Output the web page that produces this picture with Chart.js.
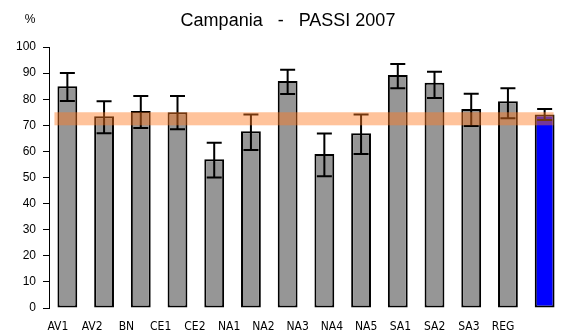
<!DOCTYPE html>
<html>
<head>
<meta charset="utf-8">
<script src="https://cdn.jsdelivr.net/npm/chart.js@4/dist/chart.umd.min.js"></script>
<style>
  html, body { margin: 0; padding: 0; background: #fff; }
  #wrap { width: 564px; height: 334px; }
</style>
</head>
<body>
<div id="wrap"><canvas id="chart" width="564" height="334"></canvas></div>
<script>
// dati
const categories = ["AV1", "AV2", "BN", "CE1", "CE2", "NA1", "NA2", "NA3", "NA4", "NA5", "SA1", "SA2", "SA3", "REG"];
const values = [85, 73.5, 75.5, 75, 57, 67.7, 87, 59, 67, 89.3, 86.3, 76.2, 79.2, 74.1];
const errLow = [79.3, 67, 69, 68.5, 50, 60.5, 82, 50.5, 59, 84.2, 80.5, 69.7, 72.7, 72];
const errHigh = [90, 79.2, 81.2, 81.2, 63.3, 74.1, 91.3, 66.9, 74.1, 93.5, 90.5, 82.1, 84.2, 76.2];
const bandRange = [70, 75];
const yTicks = [0, 10, 20, 30, 40, 50, 60, 70, 80, 90, 100];

const barColors = categories.map(c => c === "REG" ? "#0000ff" : "#969696");

// barre di errore
const errorBars = {
  id: "errorBars",
  afterDatasetsDraw(chart) {
    const ctx = chart.ctx;
    const y = chart.scales.y;
    const bars = chart.getDatasetMeta(0).data;
    ctx.save();
    ctx.strokeStyle = "#000";
    ctx.lineWidth = 2;
    bars.forEach((bar, i) => {
      const yl = y.getPixelForValue(errLow[i]);
      const yh = y.getPixelForValue(errHigh[i]);
      const cap = 7.5;
      ctx.beginPath();
      ctx.moveTo(bar.x, yl);
      ctx.lineTo(bar.x, yh);
      ctx.moveTo(bar.x - cap, yh);
      ctx.lineTo(bar.x + cap, yh);
      ctx.moveTo(bar.x - cap, yl);
      ctx.lineTo(bar.x + cap, yl);
      ctx.stroke();
    });
    ctx.restore();
  }
};

// fascia arancione (valore regionale)
const band = {
  id: "band",
  afterDatasetsDraw(chart) {
    const ctx = chart.ctx;
    const y = chart.scales.y;
    const bars = chart.getDatasetMeta(0).data;
    const first = bars[0], last = bars[bars.length - 1];
    const x0 = first.x - first.width / 2 - 3;
    const x1 = last.x + last.width / 2 - 1;
    const top = y.getPixelForValue(bandRange[1]);
    const bot = y.getPixelForValue(bandRange[0]);
    ctx.save();
    ctx.fillStyle = "rgba(255, 122, 33, 0.45)";
    ctx.fillRect(x0, top, x1 - x0, bot - top);
    ctx.restore();
  }
};

// titolo e unità
const titles = {
  id: "titles",
  afterDraw(chart) {
    const ctx = chart.ctx;
    ctx.save();
    ctx.fillStyle = "#000";
    ctx.textBaseline = "alphabetic";
    ctx.textAlign = "center";
    ctx.font = "18px 'Liberation Sans', Arial, sans-serif";
    ctx.fillText("Campania   -   PASSI 2007", 288, 26);
    ctx.font = "12px 'Liberation Sans', Arial, sans-serif";
    ctx.fillText("%", 30, 23);
    ctx.restore();
  }
};

new Chart(document.getElementById("chart"), {
  type: "bar",
  data: {
    labels: categories,
    datasets: [{
      data: values,
      backgroundColor: barColors,
      borderColor: "#000",
      borderWidth: 2,
      borderSkipped: false,
      barPercentage: 0.54,
      categoryPercentage: 1
    }]
  },
  options: {
    responsive: false,
    animation: false,
    layout: { padding: { top: 47, right: 1, left: 0, bottom: 0 } },
    plugins: {
      legend: { display: false },
      tooltip: { enabled: false },
      title: { display: false }
    },
    scales: {
      x: {
        type: "category",
        display: false,
        offset: true
      },
      // etichette: nell'originale sono più strette delle barre
      xLab: {
        type: "linear",
        position: "bottom",
        bounds: "data",
        offset: false,
        min: -0.26,
        max: 14.75,
        grid: { display: false, offset: false },
        border: { display: false },
        afterBuildTicks: s => { s.ticks = categories.map((c, i) => ({ value: i })); },
        ticks: {
          autoSkip: false,
          maxRotation: 0,
          padding: 4,
          color: "#000",
          font: { family: "'Liberation Sans Narrow', 'DejaVu Sans Condensed', 'Liberation Sans', Arial, sans-serif", size: 12 },
          callback: v => categories[v] !== undefined ? categories[v] : ""
        },
        afterFit: s => { s.height = 26; }
      },
      y: {
        min: 0,
        max: 100,
        grid: { drawOnChartArea: false, color: "#000", tickLength: 6 },
        border: { color: "#000", width: 1 },
        afterBuildTicks: s => { s.ticks = yTicks.map(v => ({ value: v })); },
        ticks: {
          padding: 7,
          color: "#000",
          font: { family: "'Liberation Sans', Arial, sans-serif", size: 12 }
        },
        afterFit: s => { s.width = 49; }
      }
    }
  },
  plugins: [errorBars, band, titles]
});
</script>
</body>
</html>
